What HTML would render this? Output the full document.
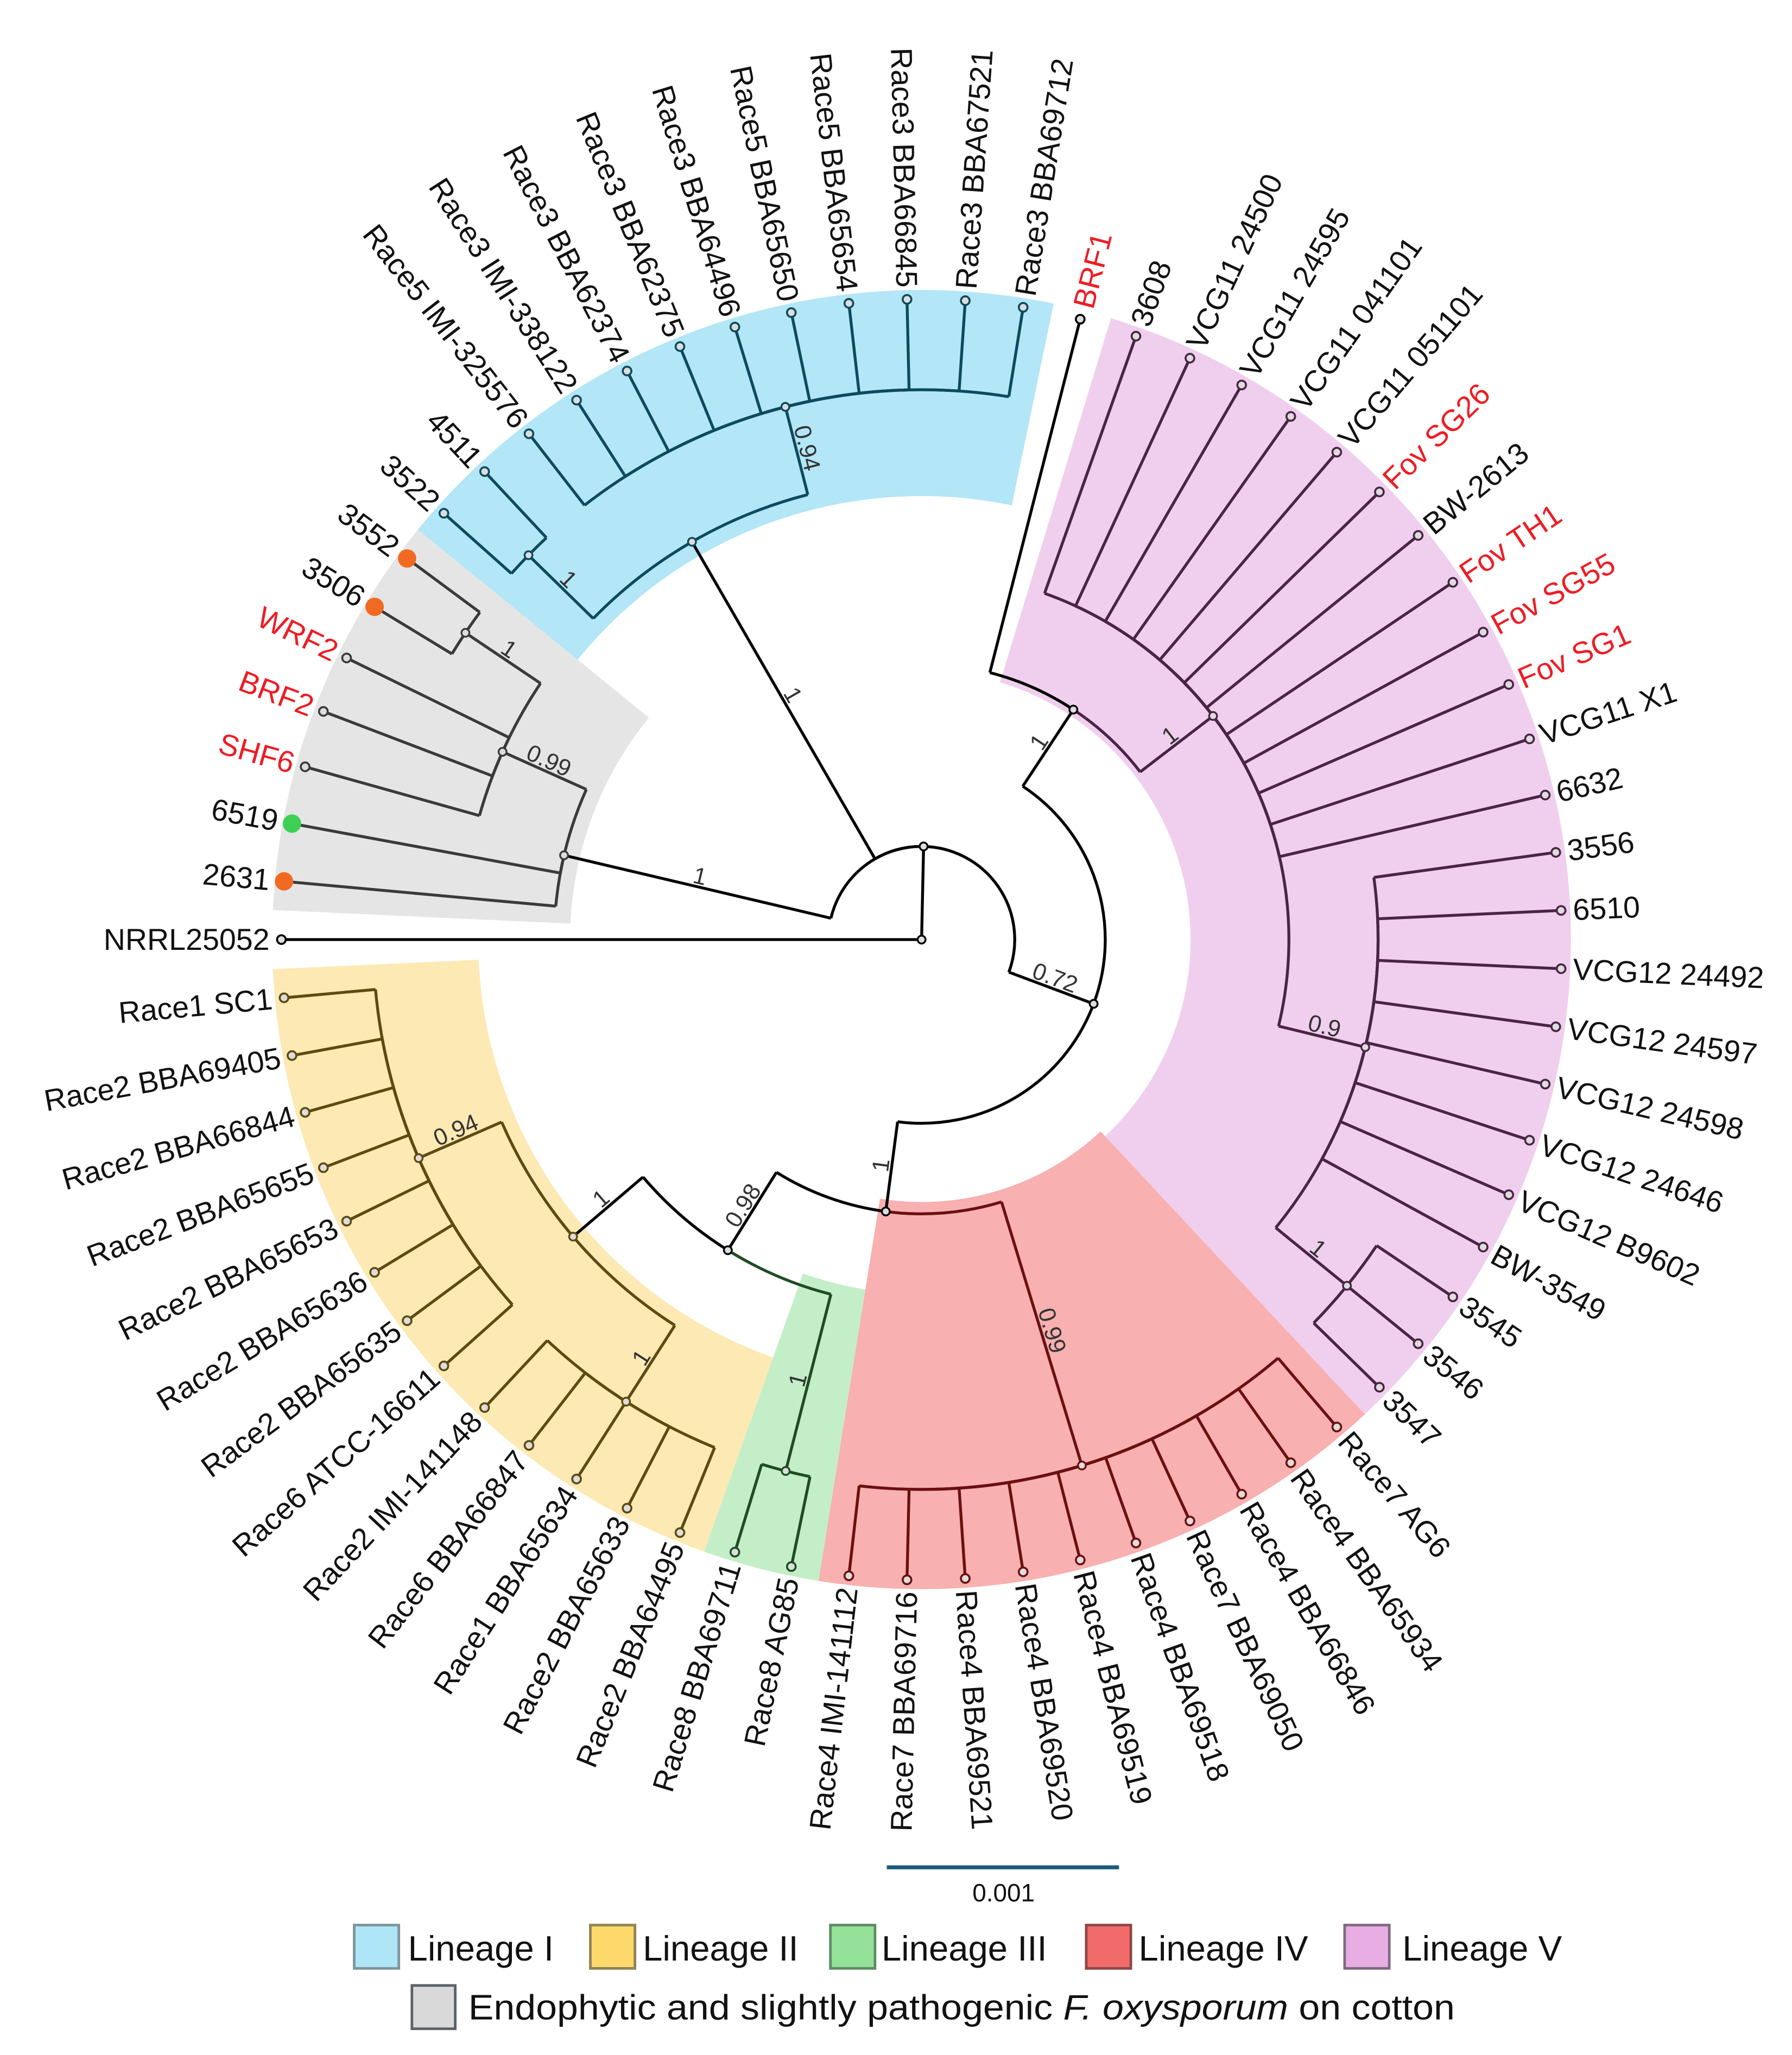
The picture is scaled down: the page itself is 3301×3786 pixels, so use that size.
<!DOCTYPE html>
<html><head><meta charset="utf-8"><title>Phylogenetic tree</title>
<style>html,body{margin:0;padding:0;background:#fff}svg{display:block}</style></head>
<body>
<svg id="tree" xmlns="http://www.w3.org/2000/svg" width="3301" height="3786" viewBox="0 0 1366 1566" preserveAspectRatio="none" font-family="'Liberation Sans', sans-serif">
<g id="sectors"></g>
<g id="edges"></g>
<g id="marks"></g>
<g id="labels"></g>
<g id="supports"></g>
<g>
<line x1="676" y1="1423" x2="853" y2="1423" stroke="#1c5a7a" stroke-width="3"/>
<text x="765" y="1449" font-size="19" text-anchor="middle" fill="#111">0.001</text>
</g>
<g font-size="27" fill="#111">
<g><rect x="270" y="1467" width="34" height="33" fill="#aee6f8" stroke="#7f959c" stroke-width="2"/><text x="311" y="1494">Lineage I</text></g>
<g><rect x="450" y="1467" width="34" height="33" fill="#fdd86a" stroke="#8f8556" stroke-width="2"/><text x="490" y="1494">Lineage II</text></g>
<g><rect x="633" y="1467" width="34" height="33" fill="#94e19a" stroke="#5f8d66" stroke-width="2"/><text x="672" y="1494">Lineage III</text></g>
<g><rect x="828" y="1467" width="34" height="33" fill="#f16b6b" stroke="#8e4747" stroke-width="2"/><text x="868" y="1494">Lineage IV</text></g>
<g><rect x="1025" y="1467" width="34" height="33" fill="#e8aee4" stroke="#806a80" stroke-width="2"/><text x="1069" y="1494">Lineage V</text></g>
<g><rect x="314" y="1513" width="33" height="33" fill="#d9d9d9" stroke="#5b636a" stroke-width="2"/><text x="357" y="1539" textLength="752" lengthAdjust="spacingAndGlyphs">Endophytic and slightly pathogenic <tspan font-style="italic">F. oxysporum</tspan> on cotton</text></g>
</g>
</svg>
<script>
const tipNames = ["NRRL25052","2631","6519","SHF6","BRF2","WRF2","3506","3552","3522","4511","Race5 IMI-325576","Race3 IMI-338122","Race3 BBA62374","Race3 BBA62375","Race3 BBA64496","Race5 BBA65650","Race5 BBA65654","Race3 BBA66845","Race3 BBA67521","Race3 BBA69712","BRF1","3608","VCG11 24500","VCG11 24595","VCG11 041101","VCG11 051101","Fov SG26","BW-2613","Fov TH1","Fov SG55","Fov SG1","VCG11 X1","6632","3556","6510","VCG12 24492","VCG12 24597","VCG12 24598","VCG12 24646","VCG12 B9602","BW-3549","3545","3546","3547","Race7 AG6","Race4 BBA65934","Race4 BBA66846","Race7 BBA69050","Race4 BBA69518","Race4 BBA69519","Race4 BBA69520","Race4 BBA69521","Race7 BBA69716","Race4 IMI-141112","Race8 AG85","Race8 BBA69711","Race2 BBA64495","Race2 BBA65633","Race1 BBA65634","Race6 BBA66847","Race2 IMI-141148","Race6 ATCC-16611","Race2 BBA65635","Race2 BBA65636","Race2 BBA65653","Race2 BBA65655","Race2 BBA66844","Race2 BBA69405","Race1 SC1"];
const redTips = ["WRF2","BRF2","SHF6","BRF1","Fov SG26","Fov TH1","Fov SG55","Fov SG1"];
const tipParents = ["root","G0","G0","G1","G1","G1","G2","G2","B1","B1","B2","B2","B2","B2","B2","B2","B2","B2","B2","B2","V0","V1","V1","V1","V1","V1","V1","V1","V1","V1","V1","V1","V1","V2","V2","V2","V2","V2","V2","V2","V2","V3","V3","V3","R1","R1","R1","R1","R1","R1","R1","R1","R1","R1","GR","GR","Y2","Y2","Y2","Y2","Y2","Y1","Y1","Y1","Y1","Y1","Y1","Y1","Y1"];
const nodeIds     = ["root","BIG","G0","G1","G2","B0","B1","B2","A","V0","V1","V2","V3","L","R1","K","GR","Y0","Y1","Y2"];
const nodeParents = [null,"root","BIG","G0","G1","BIG","B0","B0","BIG","A","V0","V1","V2","A","L","L","K","K","Y0","Y0"];
const nodeRadii   = [0,71,280,350,419,350,419,419,140,210,280,348,418,209,419,279,418,349,418,418];
const nodeSupport = ["","","1","0.99","1","1","1","0.94","0.72","1","1","0.9","1","1","0.99","0.98","1","1","0.94","1"];
const tipRadius = 488;
const coloredDots = {"3552":"#f26a21","3506":"#f26a21","2631":"#f26a21","6519":"#3dd054"};

const CX = 702.5, CY = 716, STEP = 360 / tipNames.length;
const NS = "http://www.w3.org/2000/svg";
const grp = {G:"#3a3a3a",B:"#0d4a5e",V:"#4a2445",R:"#6b0f0f",N:"#1e4d24",Y:"#5e4a10",K:"#000"};
const fills = {G:"#e5e5e5",B:"#b3e6f6",V:"#f0cfee",R:"#f8b0b0",N:"#c4eec8",Y:"#fde9b3"};
const edgeGroupNode = {root:"K",BIG:"K",G0:"K",G1:"G",G2:"G",B0:"K",B1:"B",B2:"B",A:"K",V0:"K",V1:"V",V2:"V",V3:"V",L:"K",R1:"R",K:"K",GR:"N",Y0:"K",Y1:"Y",Y2:"Y"};
const nodeGroupOwn = {root:"K",BIG:"K",G0:"G",G1:"G",G2:"G",B0:"B",B1:"B",B2:"B",A:"K",V0:"K",V1:"V",V2:"V",V3:"V",L:"K",R1:"R",K:"K",GR:"N",Y0:"Y",Y1:"Y",Y2:"Y"};

function pt(r, th){ const a = th*Math.PI/180; return [CX + r*Math.cos(a), CY + r*Math.sin(a)]; }
function idxToAngle(i){ return 180 + i*STEP; }
function mk(tag, attrs, parent){ const e = document.createElementNS(NS, tag); for (const k in attrs) e.setAttribute(k, attrs[k]); parent.appendChild(e); return e; }

// children lists
const children = {}; nodeIds.forEach(n => children[n] = []);
nodeIds.forEach((n,i) => { if (nodeParents[i]) children[nodeParents[i]].push({type:"node", id:n}); });
tipNames.forEach((t,i) => children[tipParents[i]].push({type:"tip", id:i}));
const radiusOf = {}; nodeIds.forEach((n,i) => radiusOf[n] = nodeRadii[i]);
const idxOf = {};
function nodeIdx(n){ if (idxOf[n] !== undefined) return idxOf[n]; const c = children[n]; let s = 0; c.forEach(ch => s += (ch.type==="tip" ? ch.id : nodeIdx(ch.id))); idxOf[n] = s / c.length; return idxOf[n]; }
nodeIds.forEach(nodeIdx);
function tipGroup(i){ const p = tipParents[i]; if (p==="root"||p==="V0") return "K"; return nodeGroupOwn[p]; }

// sectors
const sectors = [["G",1,7,268],["B",8,19,338],["V",21,43,205],["R",44,53,200],["N",54,55,270],["Y",56,68,338]];
const secG = document.getElementById("sectors");
sectors.forEach(s => {
  const a1 = idxToAngle(s[1]) - STEP/2, a2 = idxToAngle(s[2]) + STEP/2, ri = s[3], ro = 495;
  const large = (a2 - a1) > 180 ? 1 : 0;
  const p1 = pt(ro,a1), p2 = pt(ro,a2), p3 = pt(ri,a2), p4 = pt(ri,a1);
  const e = mk("path", {d:`M${p1[0]},${p1[1]} A${ro},${ro} 0 ${large} 1 ${p2[0]},${p2[1]} L${p3[0]},${p3[1]} A${ri},${ri} 0 ${large} 0 ${p4[0]},${p4[1]} Z`, fill:fills[s[0]]}, secG);
  
  
});

const edgeG = document.getElementById("edges"), markG = document.getElementById("marks"), labG = document.getElementById("labels"), supG = document.getElementById("supports");

function arcPath(r, t1, t2){ const a = Math.min(t1,t2), b = Math.max(t1,t2); const p = pt(r,a), q = pt(r,b); const large = (b-a) > 180 ? 1 : 0; return `M${p[0]},${p[1]} A${r},${r} 0 ${large} 1 ${q[0]},${q[1]}`; }

// edges
nodeIds.forEach((n) => {
  if (radiusOf[n] === 0) return;
  const th = idxToAngle(idxOf[n]);
  children[n].forEach(ch => {
    const cth = idxToAngle(ch.type==="tip" ? ch.id : idxOf[ch.id]);
    const col = grp[ch.type==="tip" ? tipGroup(ch.id) : edgeGroupNode[ch.id]];
    const e = mk("path", {d:arcPath(radiusOf[n], th, cth), fill:"none", stroke:col, "stroke-width":2.2}, edgeG);
    
    
  });
});
nodeIds.forEach((n,i) => {
  const p = nodeParents[i]; if (!p) return;
  const th = idxToAngle(idxOf[n]);
  const a = pt(radiusOf[p], th), b = pt(radiusOf[n], th);
  const e = mk("line", {x1:a[0], y1:a[1], x2:b[0], y2:b[1], stroke:grp[edgeGroupNode[n]], "stroke-width":2.2}, edgeG);
  
  
  const m = mk("circle", {cx:b[0], cy:b[1], r:3, fill:"#ddd", stroke:grp[nodeGroupOwn[n]], "stroke-width":1.4}, markG);
  
  
  if (nodeSupport[i]) {
    const rm = (radiusOf[p] + radiusOf[n]) / 2;
    const c = pt(rm, th);
    const right = Math.cos(th*Math.PI/180) >= 0;
    const phi = right ? th : th - 180;
    const pr = phi*Math.PI/180, d = 8;
    const x = c[0] + Math.sin(pr)*d, y = c[1] - Math.cos(pr)*d;
    const t = mk("text", {x:x, y:y, "font-size":18, fill:"#333", "text-anchor":"middle", "dominant-baseline":"central", transform:`rotate(${phi} ${x} ${y})`}, supG);
    t.textContent = nodeSupport[i];
    
    
  }
});
// root marker
const rootMark = mk("circle", {cx:CX, cy:CY, r:3, fill:"#ddd", stroke:"#000", "stroke-width":1.4}, markG);



// tips
tipNames.forEach((name, i) => {
  const th = idxToAngle(i), p = tipParents[i];
  const a = pt(radiusOf[p], th), b = pt(tipRadius, th);
  const col = grp[tipGroup(i)];
  const e = mk("line", {x1:a[0], y1:a[1], x2:b[0], y2:b[1], stroke:col, "stroke-width":2.2}, edgeG);
  
  
  let m;
  if (coloredDots[name]) m = mk("circle", {cx:b[0], cy:b[1], r:7, fill:coloredDots[name]}, markG);
  else m = mk("circle", {cx:b[0], cy:b[1], r:3.3, fill:"#ddd", stroke:col, "stroke-width":1.5}, markG);
  
  
  const right = Math.cos(th*Math.PI/180) >= 0;
  const lp = pt(tipRadius + (coloredDots[name] ? 11 : 9), th);
  const rot = right ? th : th - 180;
  const t = mk("text", {x:lp[0], y:lp[1], "font-size":23, fill: redTips.includes(name) ? "#ee1c24" : "#111", "text-anchor": right ? "start" : "end", "dominant-baseline":"central", transform:`rotate(${rot} ${lp[0]} ${lp[1]})`}, labG);
  t.textContent = name;
  
  
});
</script>
</body></html>
